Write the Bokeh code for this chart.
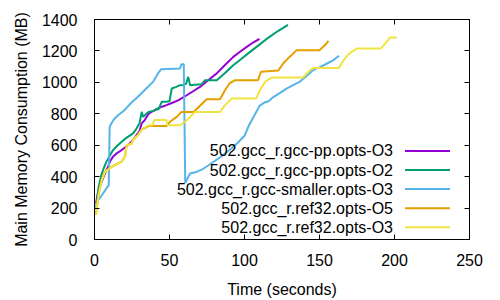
from bokeh.plotting import figure
from bokeh.models import Range1d, LinearAxis, SingleIntervalTicker, Label, BoxAnnotation
from bokeh.embed import file_html
from bokeh.resources import INLINE

# ---- data ----
labels = ["502.gcc_r.gcc-pp.opts-O3", "502.gcc_r.gcc-pp.opts-O2",
          "502.gcc_r.gcc-smaller.opts-O3", "502.gcc_r.ref32.opts-O5",
          "502.gcc_r.ref32.opts-O3"]
colors = ["#9400d3", "#009e73", "#56b4e9", "#e69f00", "#f0e442"]

pp_o3_t = [1, 2.3, 4, 5.7, 7.5, 9, 10.5, 12.3, 15, 17.9, 21, 24.5, 27, 30, 31.5, 33.5, 36, 38,
           42.5, 45, 48, 52, 56, 61.5, 66, 70.3, 76, 81.5, 87, 92.5, 97, 101.5, 106, 110]
pp_o3_mb = [230, 300, 350, 390, 430, 462, 500, 526, 550, 568, 590, 621, 650, 690, 740, 760, 800, 812,
            834, 845, 855, 870, 887, 918, 945, 971, 1015, 1057, 1110, 1162, 1195, 1226, 1255, 1277]

pp_o2_t = [1.2, 2.8, 4.5, 6, 7.9, 10, 12.3, 15, 17.9, 21, 25.7, 28, 30, 31.5, 32.5, 34, 36, 40,
           41.5, 42.5, 44.8, 48, 50, 51.5, 54.5, 57, 59, 61, 62.5, 63.7, 67, 71.5, 73.7, 81.5,
           87, 92.5, 98, 103.7, 110, 116, 122, 129]
pp_o2_mb = [207, 335, 409, 450, 494, 530, 568, 595, 621, 645, 675, 706, 740, 812, 780, 795, 812, 820,
            834, 825, 876, 876, 880, 961, 971, 982, 982, 990, 1035, 982, 985, 988, 1014, 1014,
            1060, 1109, 1150, 1194, 1240, 1285, 1325, 1366]

small_o3_t = [1, 2.3, 4, 5.7, 7.9, 9.5, 10.1, 11.2, 13, 15.7, 20, 24.5, 29, 34.5, 39, 42.3, 44.5,
              57, 58, 59.5, 60.5, 62.5, 63.7, 68, 72.5, 78, 84, 90, 95, 100, 103, 106, 110, 113,
              116, 119, 124, 128, 133, 137, 142, 146, 150, 155, 159, 163]
small_o3_mb = [197, 250, 270, 293, 325, 346, 717, 738, 765, 791, 823, 870, 908, 961, 1003, 1057, 1084,
               1088, 1116, 1116, 360, 398, 420, 430, 450, 485, 525, 570, 611, 660, 727, 780, 850, 870,
               880, 905, 935, 960, 985, 1005, 1045, 1080, 1095, 1120, 1140, 1169]

ref_o5_t = [1, 2.5, 4.8, 7, 11.5, 18, 20.3, 21.5, 24.8, 26, 29, 31.5, 36, 48, 50.3, 54.8, 58, 66,
            70, 74.8, 83.7, 87, 90, 93.7, 109, 111, 122.5, 125.8, 130, 134.8, 150, 153.7, 156]
ref_o5_mb = [160, 275, 380, 432, 463, 495, 527, 600, 611, 640, 664, 700, 722, 722, 749, 780, 812, 812,
             848, 893, 893, 950, 993, 1014, 1014, 1067, 1075, 1120, 1162, 1205, 1205, 1237, 1264]

ref_o3_t = [1, 2.5, 4.8, 7, 11.5, 18, 20.3, 21.5, 24.8, 26, 29, 31.5, 36, 38.5, 40, 48, 48.5, 57,
            60.3, 63.7, 67, 83.7, 87, 91.5, 107.7, 110.3, 113.7, 117, 119, 139, 143.7, 146, 163,
            166, 170, 175, 191, 194.8, 197, 201.5]
ref_o3_mb = [155, 271, 377, 430, 462, 494, 526, 600, 611, 640, 664, 700, 727, 727, 760, 760, 727, 727,
             749, 780, 812, 812, 855, 897, 897, 950, 1003, 1025, 1031, 1031, 1078, 1092, 1092,
             1141, 1184, 1216, 1216, 1258, 1286, 1286]

series = [(pp_o3_t, pp_o3_mb), (pp_o2_t, pp_o2_mb), (small_o3_t, small_o3_mb),
          (ref_o5_t, ref_o5_mb), (ref_o3_t, ref_o3_mb)]

FONT = "Liberation Sans"

p = figure(width=500, height=300, output_backend="svg", toolbar_location=None,
           x_range=Range1d(0, 250), y_range=Range1d(0, 1400),
           min_border_left=94, min_border_right=31, min_border_top=19, min_border_bottom=61)
p.grid.visible = False
p.outline_line_color = "black"
p.outline_line_width = 1

xt = SingleIntervalTicker(interval=50)
yt = SingleIntervalTicker(interval=200)
p.xaxis.ticker = xt
p.yaxis.ticker = yt

for ax in [p.xaxis[0], p.yaxis[0]]:
    ax.major_tick_in = 5
    ax.major_tick_out = 0
    ax.minor_tick_line_color = None
    ax.major_label_text_font = FONT
    ax.major_label_text_font_size = "16px"
    ax.major_label_text_color = "black"
    ax.axis_label_text_font = FONT
    ax.axis_label_text_font_size = "16px"
    ax.axis_label_text_font_style = "normal"
    ax.axis_label_text_color = "black"
    ax.axis_line_color = "black"
    ax.major_tick_line_color = "black"

p.xaxis.axis_label = "Time (seconds)"
p.yaxis.axis_label = "Main Memory Consumption (MB)"
p.xaxis.major_label_standoff = 10
p.xaxis.axis_label_standoff = 12
p.yaxis.major_label_standoff = 13
p.yaxis.axis_label_standoff = 9

for loc, tick in [("above", xt), ("right", yt)]:
    ax = LinearAxis(ticker=tick)
    ax.major_tick_in = 5
    ax.major_tick_out = 0
    ax.minor_tick_line_color = None
    ax.major_label_text_color = None
    ax.major_label_text_font_size = "1px"
    ax.major_label_standoff = 0
    ax.axis_line_color = "black"
    ax.major_tick_line_color = "black"
    p.add_layout(ax, loc)

for (t, mb), c in zip(series, colors):
    p.line(t, mb, line_color=c, line_width=2)

# legend (gnuplot style: right-aligned text, sample on the right)
row0 = 88.6
gap = 19.1
for i, (lab, c) in enumerate(zip(labels, colors)):
    yy = row0 - i * gap
    p.add_layout(Label(x=298.5, y=yy, x_units="screen", y_units="screen", text=lab,
                       text_align="right", text_baseline="middle", text_font=FONT,
                       text_font_size="16px", text_color="black"))
    p.add_layout(BoxAnnotation(left=310.5, right=355.5, bottom=yy - 1, top=yy + 1,
                               left_units="screen", right_units="screen",
                               bottom_units="screen", top_units="screen",
                               fill_color=c, fill_alpha=1, line_color=None))

open("out.html", "w").write(file_html(p, INLINE))
